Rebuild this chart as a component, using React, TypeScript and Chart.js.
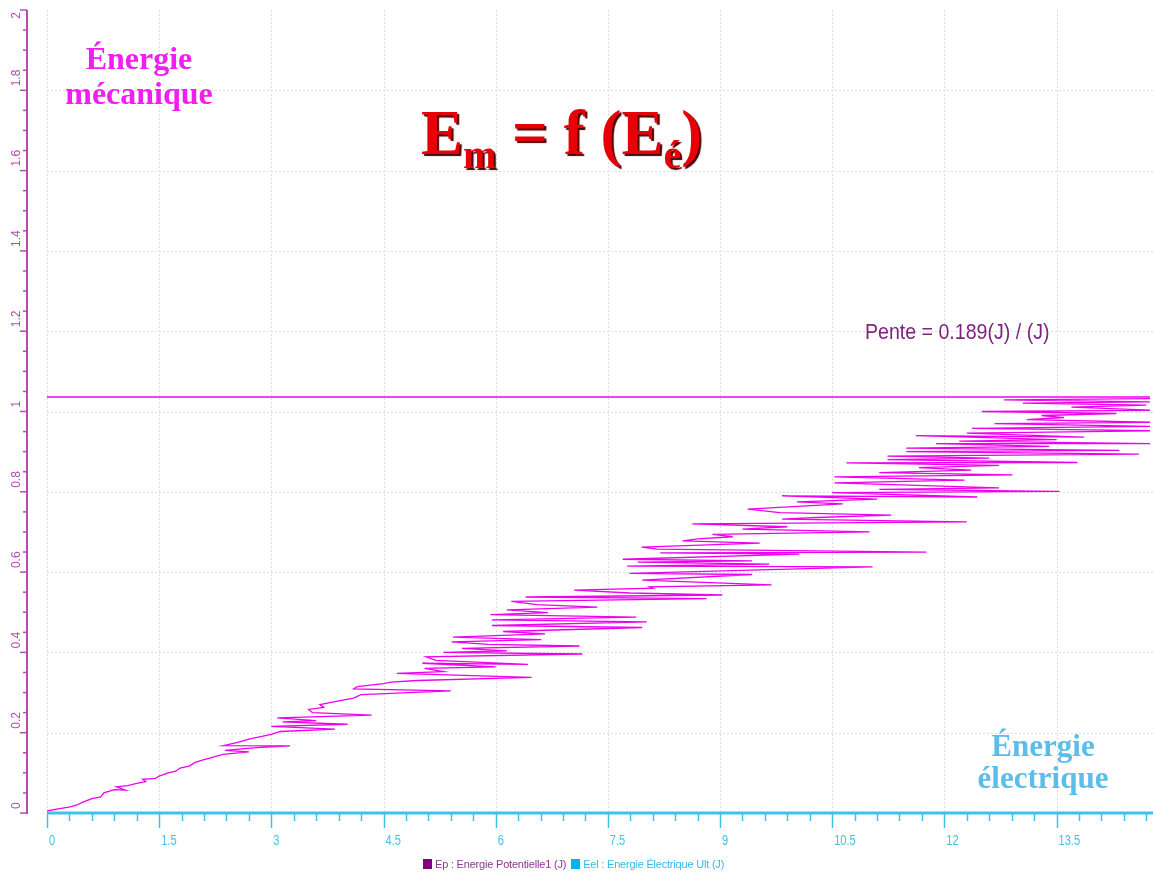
import React, { useEffect, useRef } from "react";
import { Chart, registerables } from "chart.js";

Chart.register(...registerables);

// ---- Data ----
// Eel : Énergie électrique (J) — horizontal axis
const eelValues: number[] = [
  0.0, 0.15, 0.31, 0.4, 0.48, 0.6, 0.72, 0.76, 0.9, 1.05,
  0.93, 1.08, 1.2, 1.32, 1.28, 1.45, 1.5, 1.62, 1.72, 1.78,
  1.9, 1.98, 2.1, 2.2, 2.35, 2.7, 2.38, 2.8, 3.25, 2.36,
  2.55, 2.7, 3.0, 3.12, 3.85, 3.0, 4.02, 3.15, 3.6, 3.08,
  4.34, 3.55, 3.5, 3.7, 3.65, 3.92, 4.1, 4.2, 5.4, 4.1,
  4.15, 4.5, 4.6, 4.95, 6.48, 4.68, 5.3, 5.05, 6.0, 5.02,
  6.43, 5.2, 5.07, 7.16, 5.3, 6.15, 5.55, 7.12, 5.9, 5.41,
  6.61, 5.43, 6.66, 6.1, 7.96, 5.95, 8.02, 5.95, 7.88, 5.93,
  6.7, 6.15, 7.36, 6.55, 6.21, 8.82, 6.4, 9.03, 7.8, 7.05,
  8.1, 8.06, 9.69, 7.96, 9.43, 7.79, 11.04, 7.76, 9.66, 7.9,
  9.43, 7.7, 10.06, 8.2, 11.76, 8.16, 7.95, 9.53, 8.5, 8.7,
  9.17, 8.9, 11.0, 9.3, 9.9, 8.63, 12.3, 9.83, 10.3, 11.29,
  9.8, 9.37, 10.64, 10.03, 11.1, 9.83, 12.44, 10.5, 13.54, 11.13,
  12.73, 10.53, 12.27, 10.53, 12.91, 11.13, 12.36, 11.66, 12.73, 10.69,
  13.78, 11.24, 12.6, 11.24, 14.6, 11.49, 14.34, 11.49, 13.4, 11.89,
  14.8, 12.2, 13.5, 11.62, 13.87, 12.3, 14.8, 12.37, 14.8, 12.67,
  14.8, 13.1, 13.6, 13.3, 14.3, 12.5, 14.8, 13.7, 14.7, 13.05,
  14.8, 12.8, 14.8,
];

// Ep : Énergie potentielle / mécanique (J) — vertical axis
const emValues: number[] = [
  0.005, 0.01, 0.015, 0.02, 0.027, 0.036, 0.04, 0.05, 0.058, 0.057,
  0.065, 0.068, 0.074, 0.078, 0.084, 0.086, 0.092, 0.1, 0.104, 0.112,
  0.117, 0.126, 0.133, 0.138, 0.146, 0.152, 0.156, 0.163, 0.167, 0.168,
  0.176, 0.184, 0.196, 0.203, 0.209, 0.216, 0.221, 0.227, 0.23, 0.237,
  0.244, 0.25, 0.258, 0.263, 0.27, 0.28, 0.286, 0.295, 0.304, 0.309,
  0.315, 0.322, 0.326, 0.33, 0.338, 0.348, 0.352, 0.36, 0.364, 0.373,
  0.37, 0.38, 0.389, 0.396, 0.4, 0.404, 0.41, 0.416, 0.42, 0.426,
  0.432, 0.438, 0.446, 0.452, 0.462, 0.467, 0.476, 0.481, 0.488, 0.494,
  0.499, 0.506, 0.513, 0.519, 0.527, 0.534, 0.538, 0.543, 0.548, 0.555,
  0.56, 0.563, 0.568, 0.58, 0.594, 0.597, 0.613, 0.615, 0.62, 0.625,
  0.628, 0.632, 0.645, 0.648, 0.65, 0.657, 0.662, 0.672, 0.678, 0.683,
  0.688, 0.694, 0.7, 0.707, 0.713, 0.72, 0.725, 0.732, 0.736, 0.742,
  0.748, 0.757, 0.77, 0.775, 0.782, 0.79, 0.787, 0.798, 0.801, 0.806,
  0.81, 0.822, 0.829, 0.837, 0.842, 0.848, 0.854, 0.86, 0.866, 0.872,
  0.873, 0.88, 0.884, 0.889, 0.894, 0.9, 0.903, 0.909, 0.913, 0.92,
  0.92, 0.926, 0.93, 0.94, 0.936, 0.946, 0.952, 0.958, 0.963, 0.97,
  0.973, 0.98, 0.985, 0.99, 0.995, 1.0, 1.003, 1.011, 1.016, 1.021,
  1.024, 1.029, 1.032,
];

// Horizontal reference line
const refLineX: number[] = [0, 14.75];
const refLineY: number[] = [1.036, 1.036];

// Axes
const X_MIN = 0;
const X_MAX = 14.75;
const Y_MIN = 0;
const Y_MAX = 2;
const X_MINOR_STEP = 0.3;
const Y_MINOR_STEP = 0.05;
const xTickValues: number[] = [0, 1.5, 3, 4.5, 6, 7.5, 9, 10.5, 12, 13.5];
const xTickLabels: string[] = ["0", "1.5", "3", "4.5", "6", "7.5", "9", "10.5", "12", "13.5"];
const yTickValues: number[] = [0, 0.2, 0.4, 0.6, 0.8, 1, 1.2, 1.4, 1.6, 1.8, 2];
const yTickLabels: string[] = ["0", "0.2", "0.4", "0.6", "0.8", "1", "1.2", "1.4", "1.6", "1.8", "2"];

const legendLabels: string[] = ["Ep : Energie Potentielle1 (J)", "Eel : Energie Électrique Ult (J)"];

const MAGENTA = "#ee00ee";
const Y_AXIS_COLOR = "#b04fb0";
const X_AXIS_COLOR = "#3fc2ea";
const GRID_COLOR = "#dedede";

const axesPlugin = {
  id: "customAxes",
  beforeDatasetsDraw(chart: any) {
    const { ctx, chartArea, scales } = chart;
    const x = scales.x;
    const y = scales.y;
    ctx.save();
    ctx.strokeStyle = GRID_COLOR;
    ctx.lineWidth = 1;
    ctx.setLineDash([2, 2]);
    xTickValues.forEach((v) => {
      const px = Math.round(x.getPixelForValue(v)) + 0.5;
      ctx.beginPath();
      ctx.moveTo(px, chartArea.top);
      ctx.lineTo(px, chartArea.bottom);
      ctx.stroke();
    });
    yTickValues.forEach((v) => {
      if (v === Y_MIN || v === Y_MAX) return;
      const py = Math.round(y.getPixelForValue(v)) + 0.5;
      ctx.beginPath();
      ctx.moveTo(chartArea.left, py);
      ctx.lineTo(chart.width, py);
      ctx.stroke();
    });
    ctx.restore();
  },
  afterDatasetsDraw(chart: any) {
    const { ctx, chartArea, scales } = chart;
    const x = scales.x;
    const y = scales.y;
    ctx.save();

    // ---- Y axis ----
    const axisX = chartArea.left - 20;
    ctx.strokeStyle = Y_AXIS_COLOR;
    ctx.lineWidth = 2;
    ctx.beginPath();
    ctx.moveTo(axisX, y.getPixelForValue(Y_MAX));
    ctx.lineTo(axisX, y.getPixelForValue(Y_MIN) + 1);
    ctx.stroke();
    ctx.lineWidth = 1.5;
    const nY = Math.round((Y_MAX - Y_MIN) / Y_MINOR_STEP);
    for (let i = 0; i <= nY; i++) {
      const v = Y_MIN + i * Y_MINOR_STEP;
      const py = y.getPixelForValue(v);
      const major = i % 4 === 0;
      const len = major ? 7 : 4;
      ctx.beginPath();
      ctx.moveTo(axisX - len, py);
      ctx.lineTo(axisX, py);
      ctx.stroke();
    }
    ctx.fillStyle = Y_AXIS_COLOR;
    ctx.font = '12px "Liberation Sans", Arial, sans-serif';
    ctx.textAlign = "left";
    ctx.textBaseline = "middle";
    yTickValues.forEach((v, i) => {
      const py = y.getPixelForValue(v);
      const label = yTickLabels[i];
      const w = ctx.measureText(label).width;
      const start = Math.max(py - 4, 12 + w);
      ctx.save();
      ctx.translate(axisX - 10, start);
      ctx.rotate(-Math.PI / 2);
      ctx.fillText(label, 0, 0);
      ctx.restore();
    });

    // ---- X axis ----
    const axisY = chartArea.bottom;
    ctx.strokeStyle = X_AXIS_COLOR;
    ctx.lineWidth = 3;
    ctx.beginPath();
    ctx.moveTo(chartArea.left, axisY);
    ctx.lineTo(chart.width, axisY);
    ctx.stroke();
    ctx.lineWidth = 1.5;
    const nX = Math.floor((X_MAX - X_MIN) / X_MINOR_STEP + 1e-6);
    for (let i = 0; i <= nX; i++) {
      const v = X_MIN + i * X_MINOR_STEP;
      const px = Math.round(x.getPixelForValue(v)) + 0.5;
      const major = i % 5 === 0;
      const len = major ? 15 : 8;
      ctx.beginPath();
      ctx.moveTo(px, axisY);
      ctx.lineTo(px, axisY + len);
      ctx.stroke();
    }
    ctx.fillStyle = X_AXIS_COLOR;
    ctx.font = '15px "Liberation Sans", Arial, sans-serif';
    ctx.textAlign = "left";
    ctx.textBaseline = "top";
    xTickValues.forEach((v, i) => {
      const px = x.getPixelForValue(v);
      ctx.save();
      ctx.translate(px + 2, axisY + 20);
      ctx.scale(0.74, 1);
      ctx.fillText(xTickLabels[i], 0, 0);
      ctx.restore();
    });

    ctx.restore();
  },
};

export default function App() {
  const canvasRef = useRef<HTMLCanvasElement | null>(null);

  useEffect(() => {
    if (!canvasRef.current) return;
    const curve = eelValues.map((v, i) => ({ x: v, y: emValues[i] }));
    const ref = refLineX.map((v, i) => ({ x: v, y: refLineY[i] }));
    const chart = new Chart(canvasRef.current, {
      type: "scatter",
      data: {
        datasets: [
          {
            label: legendLabels[0],
            data: curve,
            showLine: true,
            borderColor: MAGENTA,
            backgroundColor: MAGENTA,
            borderWidth: 1.3,
            pointRadius: 0,
            tension: 0,
          },
          {
            label: "Em",
            data: ref,
            showLine: true,
            borderColor: MAGENTA,
            backgroundColor: MAGENTA,
            borderWidth: 1.6,
            pointRadius: 0,
            tension: 0,
          },
        ],
      },
      options: {
        animation: false,
        responsive: false,
        maintainAspectRatio: false,
        layout: { padding: { left: 47, right: 3, top: 10, bottom: 62 } },
        scales: {
          x: { type: "linear", min: X_MIN, max: X_MAX, display: false },
          y: { type: "linear", min: Y_MIN, max: Y_MAX, display: false },
        },
        plugins: {
          legend: { display: false },
          tooltip: { enabled: false },
          title: { display: false },
        },
      },
      plugins: [axesPlugin],
    });
    return () => chart.destroy();
  }, []);

  const serif = '"Liberation Serif", "Times New Roman", "DejaVu Serif", serif';
  const sans = '"Liberation Sans", Arial, "DejaVu Sans", sans-serif';

  return (
    <div
      style={{
        position: "absolute",
        left: 0,
        top: 0,
        width: 1153,
        height: 875,
        background: "#ffffff",
        overflow: "hidden",
      }}
    >
      <canvas ref={canvasRef} width={1153} height={875} style={{ position: "absolute", left: 0, top: 0 }} />

      {/* Énergie mécanique */}
      <div
        style={{
          position: "absolute",
          left: 39,
          width: 200,
          top: 41,
          textAlign: "center",
          fontFamily: serif,
          fontWeight: "bold",
          fontSize: 32,
          lineHeight: "35px",
          color: "#f01ef0",
          whiteSpace: "nowrap",
        }}
      >
        <div>Énergie</div>
        <div>mécanique</div>
      </div>

      {/* Title formula */}
      <div
        style={{
          position: "absolute",
          left: 421,
          top: 101,
          fontFamily: serif,
          fontWeight: "bold",
          fontSize: 63,
          lineHeight: "64px",
          color: "#e80008",
          textShadow: "2px 2px 1px #4a0000",
          whiteSpace: "nowrap",
        }}
      >
        E
        <span style={{ fontSize: 40, position: "relative", top: 14 }}>m</span> = f (E
        <span style={{ fontSize: 40, position: "relative", top: 14 }}>é</span>)
      </div>

      {/* Pente */}
      <div
        style={{
          position: "absolute",
          left: 865,
          top: 320,
          fontFamily: sans,
          fontSize: 22,
          lineHeight: "24px",
          color: "#7d257d",
          whiteSpace: "nowrap",
          transform: "scaleX(0.89)",
          transformOrigin: "left top",
        }}
      >
        Pente = 0.189(J) / (J)
      </div>

      {/* Énergie électrique */}
      <div
        style={{
          position: "absolute",
          left: 943,
          width: 200,
          top: 730,
          textAlign: "center",
          fontFamily: serif,
          fontWeight: "bold",
          fontSize: 31,
          lineHeight: "32px",
          color: "#5bbde9",
          whiteSpace: "nowrap",
        }}
      >
        <div>Énergie</div>
        <div>électrique</div>
      </div>

      {/* Legend */}
      <div
        style={{
          position: "absolute",
          left: 423,
          top: 857,
          display: "flex",
          alignItems: "center",
          fontFamily: sans,
          fontSize: 11,
          lineHeight: "14px",
          whiteSpace: "nowrap",
          letterSpacing: "-0.2px",
        }}
      >
        <span style={{ display: "inline-block", width: 9, height: 10, background: "#800080", marginRight: 3 }} />
        <span style={{ color: "#8a3a8a", marginRight: 5 }}>{legendLabels[0]}</span>
        <span style={{ display: "inline-block", width: 9, height: 10, background: "#00b4f0", marginRight: 3 }} />
        <span style={{ color: "#35b8e8" }}>{legendLabels[1]}</span>
      </div>
    </div>
  );
}
